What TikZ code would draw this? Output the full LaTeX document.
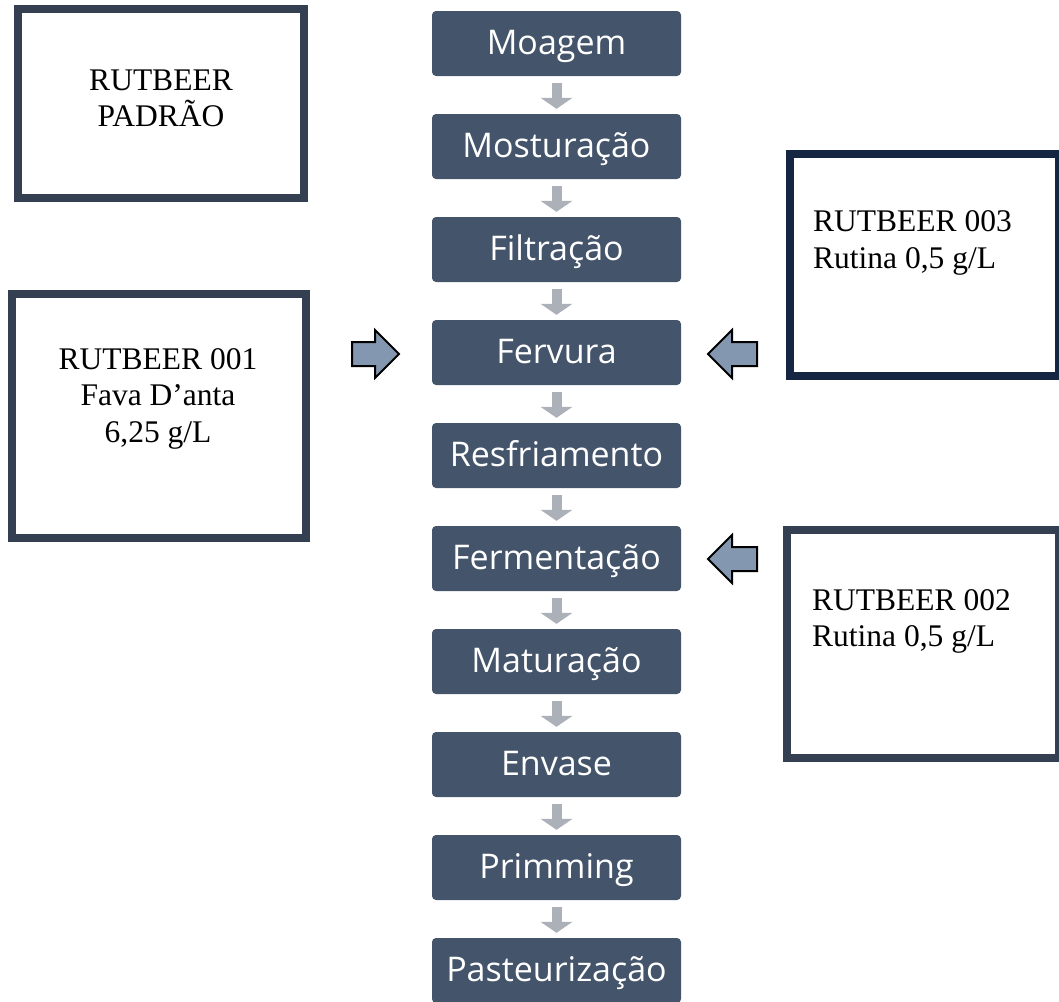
\documentclass[tikz,border=0pt]{standalone}
\usepackage{fontspec}
\setmainfont{Liberation Serif}
\newfontfamily\procfont{Open Sans}
\usetikzlibrary{arrows.meta,calc}
\definecolor{procfill}{HTML}{44546A}
\definecolor{flowgray}{HTML}{ACB0B8}
\definecolor{boxline}{HTML}{343F51}
\definecolor{boxnavy}{HTML}{152642}
\definecolor{blockfill}{HTML}{8497B0}
\begin{document}
\begin{tikzpicture}[x=1pt,y=-1pt,
  procbox/.style={rectangle, rounded corners=4pt, fill=procfill, minimum width=249pt,
    minimum height=65pt, inner sep=0pt, text=white, text height=24pt, text depth=3pt,
    font=\procfont\fontsize{34}{40}\selectfont},
  flowarrow/.style={draw=flowgray, line width=10pt,
    -{Triangle[length=11pt,width=32pt,line width=0pt]}, shorten <=7pt, shorten >=5pt},
  framebox/.style={rectangle, draw=boxline, line width=8pt, fill=white, inner sep=0pt},
  boxtext/.style={inner sep=0pt, font=\fontsize{31.5}{36.5}\selectfont},
  blockarrow/.style={draw=black, line width=2pt, fill=blockfill, line join=miter}
]
\useasboundingbox (0,0) rectangle (1059,1001);

% process steps
\foreach \t [count=\i] in {Moagem, Mosturação, Filtração, Fervura, Resfriamento,
  Fermentação, Maturação, Envase, Primming, Pasteurização}
  \node[procbox] (p\i) at (556.5,{43.5+103*(\i-1)}) {\t};
\foreach \i in {1,...,9}{
  \pgfmathtruncatemacro\j{\i+1}
  \draw[flowarrow] (p\i) -- (p\j);
}

% side boxes
\node[framebox, minimum width=286pt, minimum height=189pt] (padrao) at (161,103.5) {};
\node[boxtext, align=center] (padraotxt) at (161,98.5) {RUTBEER\\PADRÃO};

\node[framebox, minimum width=294pt, minimum height=244pt] (b001) at (159,416) {};
\node[boxtext, align=center] (b001txt) at (158,398.5) {RUTBEER 001\\Fava D’anta\\6,25 g/L};

\node[framebox, draw=boxnavy, minimum width=269pt, minimum height=222pt] (b003) at (924.5,265) {};
\node[boxtext, align=left, anchor=west] (b003txt) at (813,243) {RUTBEER 003\\Rutina 0,5 g/L};

\node[framebox, minimum width=272pt, minimum height=228pt] (b002) at (923,644) {};
\node[boxtext, align=left, anchor=west] (b002txt) at (812,621.5) {RUTBEER 002\\Rutina 0,5 g/L};

% block arrows
\draw[blockarrow] (352,342) -- (375,342) -- (375,330) -- (399,354) -- (375,378)
  -- (375,366) -- (352,366) -- cycle;
\draw[blockarrow] (757,342) -- (732,342) -- (732,330) -- (708,354) -- (732,378)
  -- (732,366) -- (757,366) -- cycle;
\draw[blockarrow] (757,547) -- (732,547) -- (732,535) -- (708,559) -- (732,583)
  -- (732,571) -- (757,571) -- cycle;
\end{tikzpicture}
\end{document}
